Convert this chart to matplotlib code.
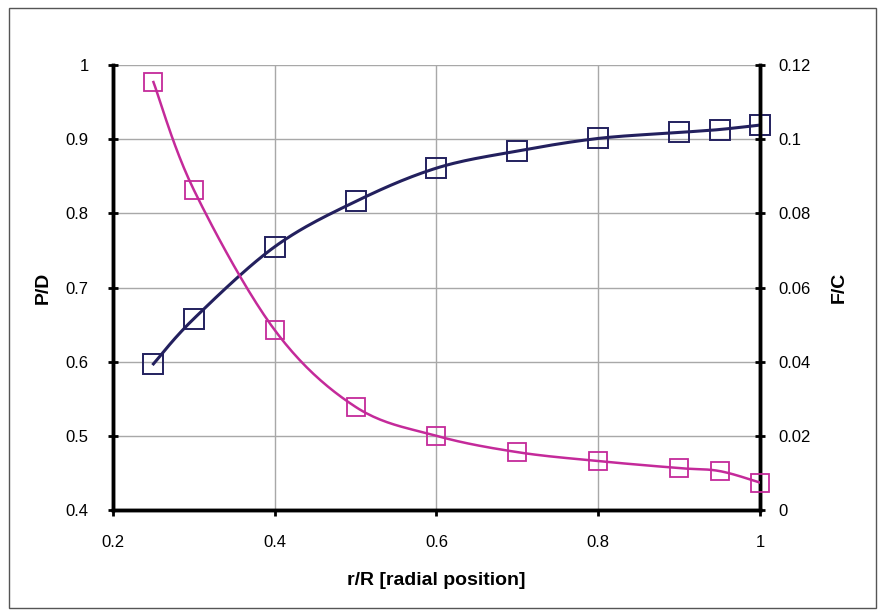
import numpy as np
import matplotlib
matplotlib.use("Agg")
from matplotlib import pyplot as plt
from matplotlib.patches import Rectangle

# radial positions and values
r_R = [0.25, 0.3, 0.4, 0.5, 0.6, 0.7, 0.8, 0.9, 0.95, 1.0]
p_d = [0.597, 0.658, 0.755, 0.816, 0.861, 0.884, 0.901, 0.909, 0.913, 0.919]
f_c = [0.1154, 0.0863, 0.0485, 0.0278, 0.0200, 0.0156, 0.0132, 0.0113, 0.0105, 0.0074]

x_ticks = [0.2, 0.4, 0.6, 0.8, 1.0]
left_ticks = [0.4, 0.5, 0.6, 0.7, 0.8, 0.9, 1.0]
right_ticks = [0, 0.02, 0.04, 0.06, 0.08, 0.1, 0.12]


def smooth(x, y, n=24):
    # Excel-style smoothed line (Catmull-Rom through the points)
    x = np.asarray(x, float)
    y = np.asarray(y, float)
    px = np.concatenate([[x[0]], x, [x[-1]]])
    py = np.concatenate([[y[0]], y, [y[-1]]])
    xs, ys = [], []
    t = np.linspace(0, 1, n)
    for i in range(1, len(px) - 2):
        p0, p1, p2, p3 = [np.array([px[j], py[j]]) for j in (i - 1, i, i + 1, i + 2)]
        c1 = p1 + (p2 - p0) / 6
        c2 = p2 - (p3 - p1) / 6
        b = ((1 - t) ** 3)[:, None] * p1 + (3 * (1 - t) ** 2 * t)[:, None] * c1 \
            + (3 * (1 - t) * t ** 2)[:, None] * c2 + (t ** 3)[:, None] * p2
        xs.extend(b[:, 0])
        ys.extend(b[:, 1])
    return xs, ys


fmt = lambda v: ("%g" % v)

fig = plt.figure(figsize=(8.82, 6.10), dpi=100)
fig.patch.set_facecolor("white")
fig.patches.append(Rectangle((9 / 882, 2 / 610), 867 / 882, 600 / 610, transform=fig.transFigure,
                             fill=False, edgecolor="#555555", linewidth=1.0))

ax = fig.add_axes([113 / 882, 1 - 510 / 610, 647 / 882, 445 / 610])
ax2 = ax.twinx()

navy = "#23205e"
magenta = "#c42a9a"

sx, sy = smooth(r_R, p_d)
ax.plot(sx, sy, color=navy, linewidth=2.2, zorder=3)
ax.plot(r_R, p_d, linestyle="none", marker="s", markersize=14, markerfacecolor="none",
        markeredgecolor=navy, markeredgewidth=1.4, zorder=5, clip_on=False)

sx2, sy2 = smooth(r_R, f_c)
ax2.plot(sx2, sy2, color=magenta, linewidth=1.8, zorder=3)
ax2.plot(r_R, f_c, linestyle="none", marker="s", markersize=13.5, markerfacecolor="none",
         markeredgecolor=magenta, markeredgewidth=1.3, zorder=5, clip_on=False)

ax.set_xlim(0.2, 1.0)
ax.set_ylim(0.4, 1.0)
ax2.set_ylim(0, 0.12)

ax.set_xticks(x_ticks)
ax.set_xticklabels([fmt(v) for v in x_ticks])
ax.set_yticks(left_ticks)
ax.set_yticklabels([fmt(v) for v in left_ticks])
ax2.set_yticks(right_ticks)
ax2.set_yticklabels([fmt(v) for v in right_ticks])

ax.grid(True, color="#a8a8a8", linewidth=1.0)
ax.set_axisbelow(True)

for a in (ax, ax2):
    a.spines["top"].set_visible(False)
    for s in ("left", "right", "bottom"):
        a.spines[s].set_linewidth(2.5)
        a.spines[s].set_color("black")

ax.tick_params(axis="x", direction="out", length=4, width=2, pad=14, labelsize=12)
ax.tick_params(axis="y", direction="inout", length=7, width=2, pad=14, labelsize=12)
ax2.tick_params(axis="y", direction="inout", length=7, width=2, pad=10, labelsize=12)

ax.set_xlabel("r/R [radial position]", fontsize=14, fontweight="bold", labelpad=16)
ax.set_ylabel("P/D", fontsize=14, fontweight="bold", labelpad=10)
ax2.set_ylabel("F/C", fontsize=14, fontweight="bold", labelpad=14)

for a in (ax, ax2):
    for lbl in a.get_xticklabels() + a.get_yticklabels():
        lbl.set_fontfamily("Liberation Sans")
    a.xaxis.label.set_fontfamily("Liberation Sans")
    a.yaxis.label.set_fontfamily("Liberation Sans")

plt.savefig("out.png", dpi=100)
